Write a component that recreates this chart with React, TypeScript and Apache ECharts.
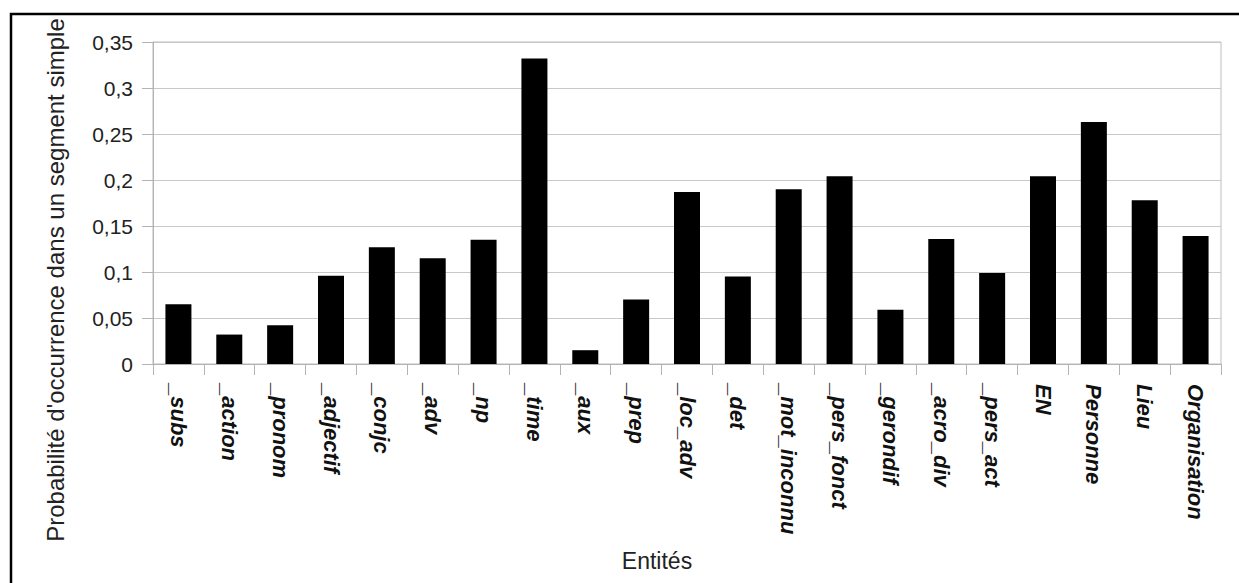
import React, { useEffect, useRef } from "react";
import * as echarts from "echarts";

const categories = [
  "_subs", "_action", "_pronom", "_adjectif", "_conjc", "_adv", "_np", "_time",
  "_aux", "_prep", "_loc_adv", "_det", "_mot_inconnu", "_pers_fonct", "_gerondif",
  "_acro_div", "_pers_act", "EN", "Personne", "Lieu", "Organisation",
];
const values = [
  0.065, 0.032, 0.042, 0.096, 0.127, 0.115, 0.135, 0.332,
  0.015, 0.07, 0.187, 0.095, 0.19, 0.204, 0.059,
  0.136, 0.099, 0.204, 0.263, 0.178, 0.139,
];
const yTitle = "Probabilité d'occurrence dans un segment simple";
const xTitle = "Entités";

export default function App() {
  const ref = useRef<HTMLDivElement>(null);
  useEffect(() => {
    if (!ref.current) return;
    const chart = echarts.init(ref.current, null, { renderer: "svg" });
    const font = "'Liberation Sans', Arial, sans-serif";
    chart.setOption({
      animation: false,
      backgroundColor: "#fff",
      grid: {
        left: 153, right: 18, top: 42, bottom: 219,
        show: true, borderColor: "#bdbdbd", borderWidth: 1,
      },
      xAxis: {
        type: "category",
        data: categories,
        boundaryGap: true,
        axisLine: { show: true, lineStyle: { color: "#b3b3b3", width: 1 } },
        axisTick: { show: true, length: 11, interval: 0, lineStyle: { color: "#b3b3b3" } },
        axisLabel: {
          interval: 0, rotate: -90, margin: 20,
          fontFamily: font, fontSize: 22, fontWeight: "bold", fontStyle: "italic",
          color: "#111",
        },
      },
      yAxis: {
        type: "value",
        min: 0, max: 0.35, interval: 0.05,
        axisLine: { show: true, lineStyle: { color: "#b3b3b3", width: 1 } },
        axisTick: { show: true, length: 11, lineStyle: { color: "#b3b3b3" } },
        splitLine: { show: true, lineStyle: { color: "#c8c8c8", width: 1 } },
        axisLabel: {
          margin: 20, fontFamily: font, fontSize: 21, color: "#222",
          formatter: (v: number) => String(Number(v.toFixed(2))).replace(".", ","),
        },
      },
      series: [
        {
          type: "bar",
          data: values,
          barWidth: 26,
          itemStyle: { color: "#000" },
        },
      ],
      graphic: [
        {
          type: "rect",
          shape: { x: 11, y: 14, width: 1400, height: 800 },
          style: { fill: "none", stroke: "#000", lineWidth: 2.5 },
          silent: true,
        },
        {
          type: "text",
          x: 55, y: 280,
          rotation: Math.PI / 2,
          style: {
            text: yTitle, fontFamily: font, fontSize: 24, fill: "#222",
            textAlign: "center", textVerticalAlign: "middle",
          },
        },
        {
          type: "text",
          x: 657, y: 561,
          style: {
            text: xTitle, fontFamily: font, fontSize: 23, fill: "#222",
            textAlign: "center", textVerticalAlign: "middle",
          },
        },
      ],
    });
    return () => chart.dispose();
  }, []);
  return (
    <div
      ref={ref}
      style={{ position: "fixed", left: 0, top: 0, width: 1239, height: 583 }}
    />
  );
}
